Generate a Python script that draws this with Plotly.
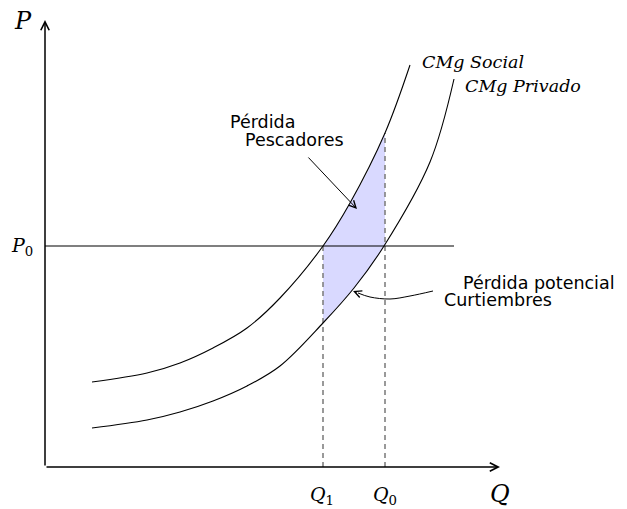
import plotly.graph_objects as go

# ---- data (arbitrary units: Q horizontal, P vertical) ----
social_q = [47, 102, 135, 168, 202, 235, 278, 305, 340, 365]
social_p = [85, 94, 104, 119, 139, 169, 221, 264, 334, 402]
privado_q = [47, 102, 135, 168, 202, 235, 278, 309, 339, 385, 409]
privado_p = [39, 47, 55, 66, 81, 101, 144, 179, 221, 305, 388]

# shaded region boundaries (between Q1 and Q0)
area_top_q = [278, 292, 305, 320, 340]
area_top_p = [221, 242, 264, 290, 334]
area_bot_q = [278, 293, 309, 324, 340]
area_bot_p = [144, 161, 179, 199, 222]

Q1, Q0, P0 = 278, 340, 221
Q_MAX, P_MAX = 455, 447
P0_LINE_END = 409

# arrows
pesc_tail, pesc_head = (262, 311), (312, 258)
curt_q = [388, 365, 345, 325, 313]
curt_p = [176, 171, 168, 170, 174]
curt_head = (308, 176)

BLACK = "#000000"
fig = go.Figure()

# shaded area (bottom then top filled to next y)
fig.add_trace(go.Scatter(x=area_bot_q, y=area_bot_p, mode="lines",
                         line=dict(width=0, shape="spline", color="rgba(0,0,0,0)"),
                         hoverinfo="skip"))
fig.add_trace(go.Scatter(x=area_top_q, y=area_top_p, mode="lines", fill="tonexty",
                         fillcolor="rgb(217,217,255)",
                         line=dict(width=0, shape="spline", color="rgba(0,0,0,0)"),
                         hoverinfo="skip"))

# dashed verticals
fig.add_trace(go.Scatter(x=[Q1, Q1], y=[0, P0], mode="lines",
                         line=dict(color="#808080", width=1.6, dash="5px,4px")))
fig.add_trace(go.Scatter(x=[Q0, Q0], y=[0, area_top_p[-1]], mode="lines",
                         line=dict(color="#808080", width=1.6, dash="5px,4px")))

# P0 line
fig.add_trace(go.Scatter(x=[0, P0_LINE_END], y=[P0, P0], mode="lines",
                         line=dict(color=BLACK, width=1.2)))

# curves
fig.add_trace(go.Scatter(x=social_q, y=social_p, mode="lines",
                         line=dict(color=BLACK, width=1.1, shape="spline")))
fig.add_trace(go.Scatter(x=privado_q, y=privado_p, mode="lines",
                         line=dict(color=BLACK, width=1.1, shape="spline")))

# curved arrow body
fig.add_trace(go.Scatter(x=curt_q, y=curt_p, mode="lines",
                         line=dict(color=BLACK, width=1.0, shape="spline")))

ann = []
def arrow(tail, head, width=1.5, size=1.0, head_style=5):
    ann.append(dict(x=head[0], y=head[1], ax=tail[0], ay=tail[1],
                    xref="x", yref="y", axref="x", ayref="y", text="",
                    showarrow=True, arrowhead=head_style, arrowwidth=width,
                    arrowsize=size, arrowcolor=BLACK, standoff=0, startstandoff=0))

# axes
arrow((0, 0), (0, P_MAX), width=1.5, size=1.1)
arrow((0, 0), (Q_MAX, 0), width=1.5, size=1.1)
# annotation arrows
arrow(pesc_tail, pesc_head, width=1.0, size=1.4)
arrow((curt_q[-1], curt_p[-1]), curt_head, width=1.0, size=1.4)

serif = "DejaVu Serif"
sans = "DejaVu Sans"
def txt(x, y, s, font, size, xanchor="center"):
    ann.append(dict(x=x, y=y, xref="x", yref="y", text=s, showarrow=False,
                    xanchor=xanchor, yanchor="middle",
                    font=dict(family=font, size=size, color=BLACK)))

txt(-22, 446, "<i>P</i>", serif, 24)
txt(-23, 221, "<i>P</i><sub>0</sub>", serif, 19)
txt(277, -28, "<i>Q</i><sub>1</sub>", serif, 19)
txt(340, -28, "<i>Q</i><sub>0</sub>", serif, 19)
txt(455, -27, "<i>Q</i>", serif, 24)
txt(375, 405, "<i>CMg Social</i>", serif, 17.5, "left")
txt(418, 381, "<i>CMg Privado</i>", serif, 17.5, "left")
txt(183, 345, "Pérdida", sans, 17.5, "left")
txt(198, 327, "Pescadores", sans, 17.5, "left")
txt(416, 184, "Pérdida potencial", sans, 17.5, "left")
txt(397, 167, "Curtiembres", sans, 17.5, "left")

fig.update_layout(
    width=627, height=509, margin=dict(l=0, r=0, t=0, b=0),
    paper_bgcolor="white", plot_bgcolor="white", showlegend=False,
    xaxis=dict(range=[-45, 582], visible=False, fixedrange=True),
    yaxis=dict(range=[-42, 467], visible=False, fixedrange=True),
    annotations=ann,
)
fig.write_html("out.html", config={"displayModeBar": False},
               post_script="document.body.style.margin='0px';document.body.style.overflow='hidden';")
